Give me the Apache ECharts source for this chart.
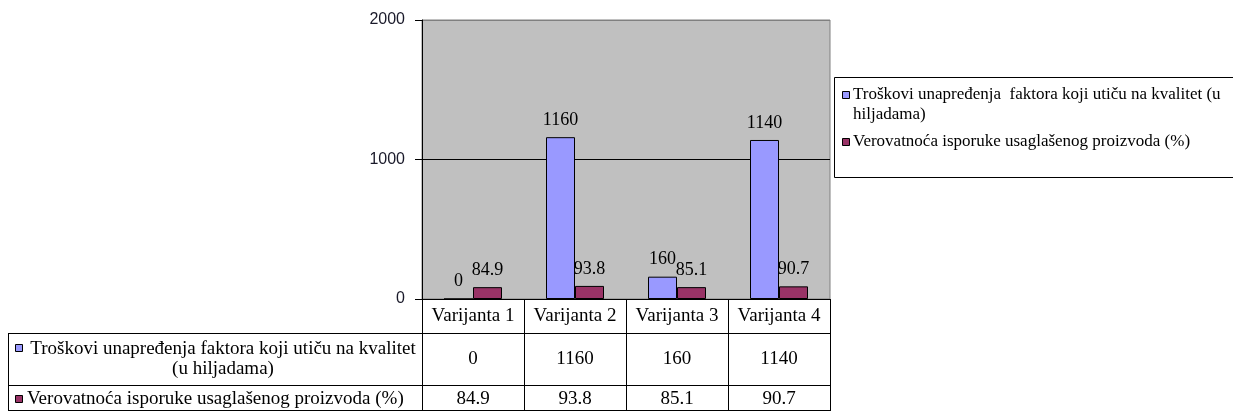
<!DOCTYPE html>
<html>
<head>
<meta charset="utf-8">
<script src="https://cdn.jsdelivr.net/npm/echarts@6/dist/echarts.min.js"></script>
<style>
html,body{margin:0;padding:0;background:#fff;}
#chart{width:1233px;height:411px;}
</style>
</head>
<body>
<div id="chart"></div>
<script>
const categories = ['Varijanta 1', 'Varijanta 2', 'Varijanta 3', 'Varijanta 4'];
const seriesNames = ['Troškovi unapređenja faktora koji utiču na kvalitet (u hiljadama)', 'Verovatnoća isporuke usaglašenog proizvoda (%)'];
const legendLabels = ['Troškovi unapređenja  faktora koji utiču na kvalitet (u\nhiljadama)', 'Verovatnoća isporuke usaglašenog proizvoda (%)'];
const tableRowLabels = ['Troškovi unapređenja faktora koji utiču na kvalitet\n(u hiljadama)', 'Verovatnoća isporuke usaglašenog proizvoda (%)'];
const costs = [0, 1160, 160, 1140];
const probability = [84.9, 93.8, 85.1, 90.7];
const yTicks = [0, 1000, 2000];

const colors = ['#9999ff', '#993366'];
const serif = 'Liberation Serif';
const gridL = 422, gridR = 830, gridT = 20, gridB = 299;
const tblL = 8, row1B = 333, row2B = 385, tblB = 411;
const band = (gridR - gridL) / categories.length;

const chart = echarts.init(document.getElementById('chart'), null, {renderer: 'canvas'});

const graphics = [];
[row1B, row2B, tblB - 1].forEach(y => {
  graphics.push({type: 'line', shape: {x1: tblL, y1: y + 0.5, x2: gridR, y2: y + 0.5}, style: {stroke: '#000', lineWidth: 1}, z: 10});
});
graphics.push({type: 'line', shape: {x1: tblL + 0.5, y1: row1B, x2: tblL + 0.5, y2: tblB}, style: {stroke: '#000', lineWidth: 1}, z: 10});
const rowsData = [costs, probability];
const rowCenters = [359, 399];
const squareY = [344, 395];
tableRowLabels.forEach((lab, r) => {
  graphics.push({type: 'rect', shape: {x: 15.5, y: squareY[r] + 0.5, width: 7, height: 7}, style: {fill: colors[r], stroke: '#000', lineWidth: 1}, z: 10});
  graphics.push({type: 'text', style: {text: lab, x: r === 0 ? 223 : 27, y: rowCenters[r], textAlign: r === 0 ? 'center' : 'left', textVerticalAlign: 'middle', font: '19px "' + serif + '"', fill: '#000', lineHeight: 20}, z: 10});
  rowsData[r].forEach((v, i) => {
    graphics.push({type: 'text', style: {text: String(v), x: gridL + band * (i + 0.5), y: rowCenters[r], textAlign: 'center', textVerticalAlign: 'middle', font: '19px "' + serif + '"', fill: '#000'}, z: 10});
  });
});
graphics.push({type: 'rect', shape: {x: 834.5, y: 77.5, width: 420, height: 100}, style: {fill: '#fff', stroke: '#000', lineWidth: 1}, z: 1});
const legendY = [95, 142];
legendLabels.forEach((lab, r) => {
  graphics.push({type: 'rect', shape: {x: 842.5, y: legendY[r] - 3.5, width: 7, height: 7}, style: {fill: colors[r], stroke: '#000', lineWidth: 1}, z: 10});
  graphics.push({type: 'text', style: {text: lab, x: 853, y: legendY[r] - 10, textAlign: 'left', textVerticalAlign: 'top', font: '17px "' + serif + '"', fill: '#000', lineHeight: 20}, z: 10});
});

const option = {
  animation: false,
  backgroundColor: '#fff',
  grid: {left: gridL, right: 1233 - gridR, top: gridT, bottom: 411 - gridB, show: true, backgroundColor: '#c0c0c0', borderColor: '#808080', borderWidth: 1},
  xAxis: {
    type: 'category', data: categories,
    axisLine: {show: true, lineStyle: {color: '#000', width: 1}},
    axisTick: {show: true, interval: 0, length: 112, lineStyle: {color: '#000', width: 1}},
    axisLabel: {interval: 0, hideOverlap: false, fontFamily: serif, fontSize: 19, color: '#000', margin: 8}
  },
  yAxis: {
    type: 'value', min: 0, max: 2000, interval: 1000,
    axisLine: {show: true, lineStyle: {color: '#000', width: 1}},
    axisTick: {show: true, length: 7, lineStyle: {color: '#000'}},
    axisLabel: {fontFamily: 'Liberation Sans', fontSize: 16, color: '#1a1a2a', margin: 17,
      formatter: v => yTicks.indexOf(v) >= 0 ? String(v) : ''},
    splitLine: {show: true, lineStyle: {color: ['#000', '#000', '#808080'], width: 1}}
  },
  series: [
    {name: seriesNames[0], type: 'bar', data: costs, barWidth: 29, barGap: '0%',
      itemStyle: {color: colors[0], borderColor: '#000', borderWidth: 1},
      label: {show: true, position: 'top', distance: 8, fontFamily: serif, fontSize: 18, color: '#000'}},
    {name: seriesNames[1], type: 'bar', data: probability, barWidth: 29, barGap: '0%',
      itemStyle: {color: colors[1], borderColor: '#000', borderWidth: 1},
      label: {show: true, position: 'top', distance: 8, fontFamily: serif, fontSize: 18, color: '#000'}}
  ],
  graphic: graphics
};
chart.setOption(option);
</script>
</body>
</html>
